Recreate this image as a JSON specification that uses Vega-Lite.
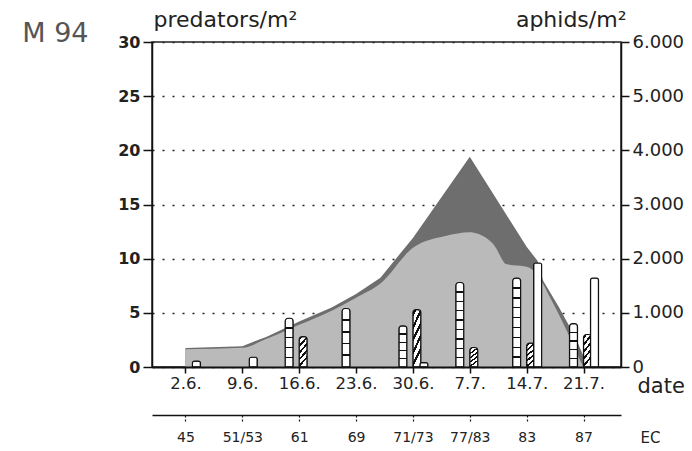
{
  "$schema": "https://vega.github.io/schema/vega-lite/v6.json",
  "width": 469,
  "height": 325,
  "autosize": {"type": "none"},
  "padding": {"left": 152, "top": 42, "right": 71, "bottom": 84},
  "title": {"text": "M 94", "orient": "left", "anchor": "end", "angle": 0, "align": "right", "baseline": "alphabetic", "offset": -37, "frame": "group", "fontSize": 27, "fontWeight": "normal", "color": "#555", "font": "DejaVu Sans"},
  "config": {
    "font": "DejaVu Sans",
    "view": {"stroke": "#222", "strokeWidth": 1.5},
    "locale": {"number": {"decimal": ",", "thousands": ".", "grouping": [3], "currency": ["", " €"]}},
    "axis": {"labelColor": "#222", "titleColor": "#222", "domainColor": "#111", "tickColor": "#111", "titleFontWeight": "normal", "labelFont": "DejaVu Sans", "titleFont": "DejaVu Sans"}
  },
  "datasets": {
    "aphids": [
      {"date": "1994-06-02T00:00", "series": "dark", "value": 350},
      {"date": "1994-06-09T00:00", "series": "dark", "value": 385},
      {"date": "1994-06-12T00:00", "series": "dark", "value": 560},
      {"date": "1994-06-16T00:00", "series": "dark", "value": 840},
      {"date": "1994-06-20T00:00", "series": "dark", "value": 1100},
      {"date": "1994-06-23T00:00", "series": "dark", "value": 1350},
      {"date": "1994-06-26T00:00", "series": "dark", "value": 1650},
      {"date": "1994-06-30T00:00", "series": "dark", "value": 2380},
      {"date": "1994-07-07T00:00", "series": "dark", "value": 3880},
      {"date": "1994-07-14T00:00", "series": "dark", "value": 2220},
      {"date": "1994-07-15T08:00", "series": "dark", "value": 1960},
      {"date": "1994-07-16T00:00", "series": "dark", "value": 1600},
      {"date": "1994-07-18T00:00", "series": "dark", "value": 1100},
      {"date": "1994-07-20T00:00", "series": "dark", "value": 550},
      {"date": "1994-07-21T00:00", "series": "dark", "value": 200},
      {"date": "1994-07-22T00:00", "series": "dark", "value": 0},
      {"date": "1994-06-02T00:00", "series": "light", "value": 330},
      {"date": "1994-06-09T00:00", "series": "light", "value": 355},
      {"date": "1994-06-12T00:00", "series": "light", "value": 520},
      {"date": "1994-06-16T00:00", "series": "light", "value": 780},
      {"date": "1994-06-20T00:00", "series": "light", "value": 1040},
      {"date": "1994-06-23T00:00", "series": "light", "value": 1280},
      {"date": "1994-06-26T00:00", "series": "light", "value": 1540},
      {"date": "1994-06-30T00:00", "series": "light", "value": 2200},
      {"date": "1994-07-04T00:00", "series": "light", "value": 2420},
      {"date": "1994-07-07T00:00", "series": "light", "value": 2490},
      {"date": "1994-07-08T00:00", "series": "light", "value": 2460},
      {"date": "1994-07-10T00:00", "series": "light", "value": 2250},
      {"date": "1994-07-11T12:00", "series": "light", "value": 1900},
      {"date": "1994-07-14T00:00", "series": "light", "value": 1850},
      {"date": "1994-07-15T08:00", "series": "light", "value": 1700},
      {"date": "1994-07-17T00:00", "series": "light", "value": 1250},
      {"date": "1994-07-19T00:00", "series": "light", "value": 650},
      {"date": "1994-07-20T12:00", "series": "light", "value": 150},
      {"date": "1994-07-21T00:00", "series": "light", "value": 0}
    ],
    "predators": [
      {"date": "1994-06-16T00:00", "type": "ladder", "value": 4.5},
      {"date": "1994-06-23T00:00", "type": "ladder", "value": 5.4},
      {"date": "1994-06-30T00:00", "type": "ladder", "value": 3.8},
      {"date": "1994-07-07T00:00", "type": "ladder", "value": 7.8},
      {"date": "1994-07-14T00:00", "type": "ladder", "value": 8.2},
      {"date": "1994-07-21T00:00", "type": "ladder", "value": 4.0},
      {"date": "1994-06-16T00:00", "type": "striped", "value": 2.8},
      {"date": "1994-06-30T00:00", "type": "striped", "value": 5.3},
      {"date": "1994-07-07T00:00", "type": "striped", "value": 1.8},
      {"date": "1994-07-14T00:00", "type": "striped", "value": 2.2},
      {"date": "1994-07-21T00:00", "type": "striped", "value": 3.0},
      {"date": "1994-06-02T00:00", "type": "white", "value": 0.55},
      {"date": "1994-06-09T00:00", "type": "white", "value": 0.9},
      {"date": "1994-06-30T00:00", "type": "white", "value": 0.4},
      {"date": "1994-07-14T00:00", "type": "white", "value": 9.6},
      {"date": "1994-07-21T00:00", "type": "white", "value": 8.2}
    ]
  },
  "layer": [
    {
      "data": {"name": "aphids"},
      "transform": [{"filter": "datum.series === 'dark'"}],
      "mark": {"type": "area", "color": "#6e6e6e", "interpolate": "linear"},
      "encoding": {
        "x": {"field": "date", "type": "temporal",
          "scale": {"domain": [{"year": 1994, "month": 5, "date": 29, "hours": 12}, {"year": 1994, "month": 7, "date": 25}]},
          "axis": {
            "orient": "bottom",
            "values": [{"year": 1994, "month": 6, "date": 2}, {"year": 1994, "month": 6, "date": 9}, {"year": 1994, "month": 6, "date": 16}, {"year": 1994, "month": 6, "date": 23}, {"year": 1994, "month": 6, "date": 30}, {"year": 1994, "month": 7, "date": 7}, {"year": 1994, "month": 7, "date": 14}, {"year": 1994, "month": 7, "date": 21}],
            "format": "%-d.%-m.", "labelFontSize": 16.5, "labelPadding": 2, "labelFlush": false, "labelOverlap": false,
            "tickSize": 6, "tickWidth": 1.5, "domainWidth": 2, "grid": false, "zindex": 1,
            "title": "date", "titleFontSize": 21, "titleAlign": "left", "titleAnchor": "start", "titleX": 485, "titleY": 19, "titleBaseline": "middle"
          }},
        "y": {"field": "value", "type": "quantitative", "scale": {"domain": [0, 6000], "nice": false},
          "axis": {
            "orient": "right", "values": [0, 1000, 2000, 3000, 4000, 5000, 6000], "format": ",d",
            "labelFontSize": 18, "tickSize": 8, "tickWidth": 1.5, "labelPadding": 3, "domainWidth": 1.5, "grid": false,
            "title": "aphids/m²", "titleAngle": 0, "titleAlign": "right", "titleBaseline": "alphabetic", "titleX": 5, "titleY": -16, "titleFontSize": 22
          }}
      }
    },
    {
      "data": {"name": "aphids"},
      "transform": [{"filter": "datum.series === 'light'"}],
      "mark": {"type": "area", "color": "#bababa", "interpolate": "monotone"},
      "encoding": {
        "x": {"field": "date", "type": "temporal",
          "scale": {"domain": [{"year": 1994, "month": 5, "date": 29, "hours": 12}, {"year": 1994, "month": 7, "date": 25}]}, "axis": null},
        "y": {"field": "value", "type": "quantitative", "scale": {"domain": [0, 6000], "nice": false}, "axis": null}
      }
    },
    {
      "data": {"name": "predators"},
      "transform": [{"filter": "datum.type === 'ladder' && datum.value > 6"}],
      "mark": {"type": "bar", "width": 8, "xOffset": -10, "stroke": "#111", "strokeWidth": 1.2, "cornerRadiusTopLeft": 3, "cornerRadiusTopRight": 3,
        "fill": {"gradient": "linear", "x1": 0, "y1": 0, "x2": 0, "y2": 1, "stops": [
          {"offset": 0, "color": "#ffffff"}, {"offset": 0.103, "color": "#ffffff"}, {"offset": 0.103, "color": "#111111"}, {"offset": 0.119, "color": "#111111"}, {"offset": 0.119, "color": "#ffffff"},
          {"offset": 0.214, "color": "#ffffff"}, {"offset": 0.214, "color": "#111111"}, {"offset": 0.230, "color": "#111111"}, {"offset": 0.230, "color": "#ffffff"},
          {"offset": 0.325, "color": "#ffffff"}, {"offset": 0.325, "color": "#111111"}, {"offset": 0.341, "color": "#111111"}, {"offset": 0.341, "color": "#ffffff"},
          {"offset": 0.436, "color": "#ffffff"}, {"offset": 0.436, "color": "#111111"}, {"offset": 0.452, "color": "#111111"}, {"offset": 0.452, "color": "#ffffff"},
          {"offset": 0.548, "color": "#ffffff"}, {"offset": 0.548, "color": "#111111"}, {"offset": 0.564, "color": "#111111"}, {"offset": 0.564, "color": "#ffffff"},
          {"offset": 0.659, "color": "#ffffff"}, {"offset": 0.659, "color": "#111111"}, {"offset": 0.675, "color": "#111111"}, {"offset": 0.675, "color": "#ffffff"},
          {"offset": 0.770, "color": "#ffffff"}, {"offset": 0.770, "color": "#111111"}, {"offset": 0.786, "color": "#111111"}, {"offset": 0.786, "color": "#ffffff"},
          {"offset": 0.881, "color": "#ffffff"}, {"offset": 0.881, "color": "#111111"}, {"offset": 0.897, "color": "#111111"}, {"offset": 0.897, "color": "#ffffff"},
          {"offset": 1, "color": "#ffffff"}]}},
      "encoding": {
        "x": {"field": "date", "type": "temporal",
          "scale": {"domain": [{"year": 1994, "month": 5, "date": 29, "hours": 12}, {"year": 1994, "month": 7, "date": 25}]},
          "axis": {
            "orient": "bottom",
            "values": [{"year": 1994, "month": 6, "date": 2}, {"year": 1994, "month": 6, "date": 9}, {"year": 1994, "month": 6, "date": 16}, {"year": 1994, "month": 6, "date": 23}, {"year": 1994, "month": 6, "date": 30}, {"year": 1994, "month": 7, "date": 7}, {"year": 1994, "month": 7, "date": 14}, {"year": 1994, "month": 7, "date": 21}],
            "labelExpr": "['45','51/53','61','69','71/73','77/83','83','87'][round((datum.value - datetime(1994,5,2)) / 604800000)]",
            "offset": 48, "labelFontSize": 14, "labelPadding": 7, "labelFlush": false, "labelOverlap": false,
            "tickSize": 8, "tickWidth": 1.2, "tickDash": [2, 2], "domainWidth": 1.5, "grid": false,
            "title": "EC", "titleFontSize": 15, "titleAlign": "left", "titleAnchor": "start", "titleX": 488, "titleY": 22, "titleBaseline": "middle"
          }},
        "y": {"field": "value", "type": "quantitative", "scale": {"domain": [0, 30], "nice": false},
          "axis": {
            "orient": "left", "values": [0, 5, 10, 15, 20, 25, 30],
            "labelFontSize": 16, "labelFontWeight": "bold", "tickSize": 9, "tickWidth": 1.5, "labelPadding": 3, "domainWidth": 1.5,
            "grid": true, "gridDash": [2, 8], "gridColor": "#222", "gridWidth": 1.5,
            "title": "predators/m²", "titleAngle": 0, "titleAlign": "left", "titleBaseline": "alphabetic", "titleX": 1, "titleY": -16, "titleFontSize": 22
          }}
      }
    },
    {
      "data": {"name": "predators"},
      "transform": [{"filter": "datum.type === 'ladder' && datum.value <= 6"}],
      "mark": {"type": "bar", "width": 8, "xOffset": -10, "stroke": "#111", "strokeWidth": 1.2, "cornerRadiusTopLeft": 3, "cornerRadiusTopRight": 3,
        "fill": {"gradient": "linear", "x1": 0, "y1": 0, "x2": 0, "y2": 1, "stops": [
          {"offset": 0, "color": "#ffffff"}, {"offset": 0.186, "color": "#ffffff"}, {"offset": 0.186, "color": "#111111"}, {"offset": 0.214, "color": "#111111"}, {"offset": 0.214, "color": "#ffffff"},
          {"offset": 0.386, "color": "#ffffff"}, {"offset": 0.386, "color": "#111111"}, {"offset": 0.414, "color": "#111111"}, {"offset": 0.414, "color": "#ffffff"},
          {"offset": 0.586, "color": "#ffffff"}, {"offset": 0.586, "color": "#111111"}, {"offset": 0.614, "color": "#111111"}, {"offset": 0.614, "color": "#ffffff"},
          {"offset": 0.786, "color": "#ffffff"}, {"offset": 0.786, "color": "#111111"}, {"offset": 0.814, "color": "#111111"}, {"offset": 0.814, "color": "#ffffff"},
          {"offset": 1, "color": "#ffffff"}]}},
      "encoding": {
        "x": {"field": "date", "type": "temporal", "scale": {"domain": [{"year": 1994, "month": 5, "date": 29, "hours": 12}, {"year": 1994, "month": 7, "date": 25}]}, "axis": null},
        "y": {"field": "value", "type": "quantitative", "scale": {"domain": [0, 30], "nice": false}, "axis": null}
      }
    },
    {
      "data": {"name": "predators"},
      "transform": [{"filter": "datum.type === 'striped'"}],
      "mark": {"type": "bar", "width": 8, "xOffset": 4, "stroke": "#111", "strokeWidth": 1.2, "cornerRadiusTopLeft": 3, "cornerRadiusTopRight": 3,
        "fill": {"gradient": "linear", "x1": 0, "y1": 0, "x2": 0.3, "y2": 1, "stops": [
          {"offset": 0, "color": "#ffffff"}, {"offset": 0.05, "color": "#ffffff"}, {"offset": 0.05, "color": "#111111"}, {"offset": 0.13, "color": "#111111"}, {"offset": 0.13, "color": "#ffffff"},
          {"offset": 0.25, "color": "#ffffff"}, {"offset": 0.25, "color": "#111111"}, {"offset": 0.33, "color": "#111111"}, {"offset": 0.33, "color": "#ffffff"},
          {"offset": 0.45, "color": "#ffffff"}, {"offset": 0.45, "color": "#111111"}, {"offset": 0.53, "color": "#111111"}, {"offset": 0.53, "color": "#ffffff"},
          {"offset": 0.65, "color": "#ffffff"}, {"offset": 0.65, "color": "#111111"}, {"offset": 0.73, "color": "#111111"}, {"offset": 0.73, "color": "#ffffff"},
          {"offset": 0.85, "color": "#ffffff"}, {"offset": 0.85, "color": "#111111"}, {"offset": 0.93, "color": "#111111"}, {"offset": 0.93, "color": "#ffffff"},
          {"offset": 1, "color": "#ffffff"}]}},
      "encoding": {
        "x": {"field": "date", "type": "temporal", "scale": {"domain": [{"year": 1994, "month": 5, "date": 29, "hours": 12}, {"year": 1994, "month": 7, "date": 25}]}, "axis": null},
        "y": {"field": "value", "type": "quantitative", "scale": {"domain": [0, 30], "nice": false}, "axis": null}
      }
    },
    {
      "data": {"name": "predators"},
      "transform": [{"filter": "datum.type === 'white'"}],
      "mark": {"type": "bar", "width": 8, "xOffset": 11, "fill": "#ffffff", "stroke": "#111", "strokeWidth": 1.2, "cornerRadiusTopLeft": 2, "cornerRadiusTopRight": 2},
      "encoding": {
        "x": {"field": "date", "type": "temporal", "scale": {"domain": [{"year": 1994, "month": 5, "date": 29, "hours": 12}, {"year": 1994, "month": 7, "date": 25}]}, "axis": null},
        "y": {"field": "value", "type": "quantitative", "scale": {"domain": [0, 30], "nice": false}, "axis": null}
      }
    }
  ],
  "resolve": {"scale": {"y": "independent"}, "axis": {"x": "independent", "y": "independent"}}
}
